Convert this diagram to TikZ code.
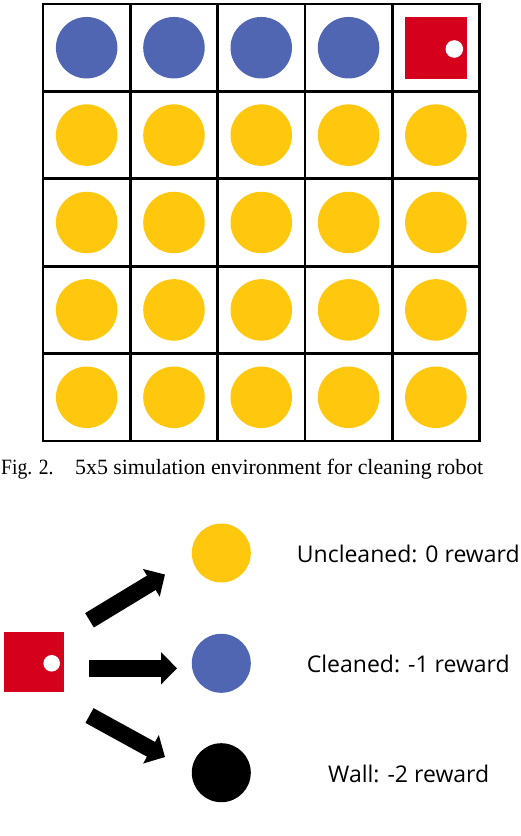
\documentclass[tikz,border=0pt]{standalone}
\usepackage{fontspec}
\setmainfont{Liberation Serif}
\newfontfamily\labelfont{Open Sans}
\usetikzlibrary{arrows.meta}
\definecolor{cblue}{RGB}{80,102,178}
\definecolor{cyellow}{RGB}{255,200,14}
\definecolor{cred}{RGB}{213,0,28}
\tikzset{
  gridline/.style={line width=2.8pt, black, line cap=rect},
  dirt/.style={circle, fill=cyellow, minimum size=61.5pt, inner sep=0pt},
  clean/.style={circle, fill=cblue, minimum size=61.5pt, inner sep=0pt},
  robot/.style={rectangle, fill=cred, minimum size=62pt, inner sep=0pt},
  eye/.style={circle, fill=white, minimum size=17.6pt, inner sep=0pt},
  legdirt/.style={circle, fill=cyellow, minimum size=59pt, inner sep=0pt},
  legclean/.style={circle, fill=cblue, minimum size=59pt, inner sep=0pt},
  legwall/.style={circle, fill=black, minimum size=59pt, inner sep=0pt},
  legrobot/.style={rectangle, fill=cred, minimum size=60pt, inner sep=0pt},
  legeye/.style={circle, fill=white, minimum size=16.6pt, inner sep=0pt},
  bigarrow/.style={line width=16.8pt, black, -{Triangle[width=31.5pt,length=16pt]}},
  legtext/.style={font=\labelfont\fontsize{23pt}{27pt}\selectfont, anchor=base, inner sep=0pt},
}
\begin{document}
\begin{tikzpicture}[x=1pt,y=-1pt]
\useasboundingbox (0,0) rectangle (520,836);
% grid
\def\gx{43}\def\gy{4}\def\cw{87.3}\def\ch{87.4}
\foreach \r in {1,...,5}{
  \foreach \c in {1,...,5}{
    \pgfmathsetmacro{\px}{\gx+(\c-0.5)*\cw}
    \pgfmathsetmacro{\py}{\gy+(\r-0.5)*\ch}
    \ifnum\r=1
      \ifnum\c=5
        \node[robot] (cell-\r-\c) at (\px,\py) {};
      \else
        \node[clean] (cell-\r-\c) at (\px,\py) {};
      \fi
    \else
      \node[dirt] (cell-\r-\c) at (\px,\py) {};
    \fi
  }
}
\node[eye] (gridrobot-eye) at (454.3,49) {};
\foreach \i in {0,...,5}{
  \draw[gridline] ({\gx+\i*\cw},\gy) -- ({\gx+\i*\cw},{\gy+5*\ch});
  \draw[gridline] (\gx,{\gy+\i*\ch}) -- ({\gx+5*\cw},{\gy+\i*\ch});
}
% caption
\node[anchor=base west, inner sep=0pt] (figlabel) at (1,474.5) {\scalebox{0.9}[1]{\fontsize{21.8pt}{24pt}\selectfont Fig. 2.}};
\node[anchor=base west, inner sep=0pt] (captext) at (75,474.5) {\resizebox{408pt}{!}{\fontsize{20pt}{24pt}\selectfont 5x5 simulation environment for cleaning robot}};
% legend
\node[legrobot] (robot) at (33.5,662) {};
\node[legeye] (robot-eye) at (51.7,663.3) {};
\node[legdirt] (uncl) at (221.3,553) {};
\node[legclean] (cln) at (221.3,663.3) {};
\node[legwall] (wall) at (221.3,772.7) {};
\coordinate (a1s) at (89.5,620.3);
\coordinate (a1e) at (165,574.5);
\coordinate (a2s) at (89,668.3);
\coordinate (a2e) at (177,668.3);
\coordinate (a3s) at (89.5,715.5);
\coordinate (a3e) at (165,757);
\draw[bigarrow] (a1s) -- (a1e);
\draw[bigarrow] (a2s) -- (a2e);
\draw[bigarrow] (a3s) -- (a3e);
\node[legtext] (t1) at (408.3,562.5) {Uncleaned: 0 reward};
\node[legtext] (t2) at (408.3,672) {Cleaned: -1 reward};
\node[legtext] (t3) at (408.7,782) {Wall: -2 reward};
\end{tikzpicture}
\end{document}
